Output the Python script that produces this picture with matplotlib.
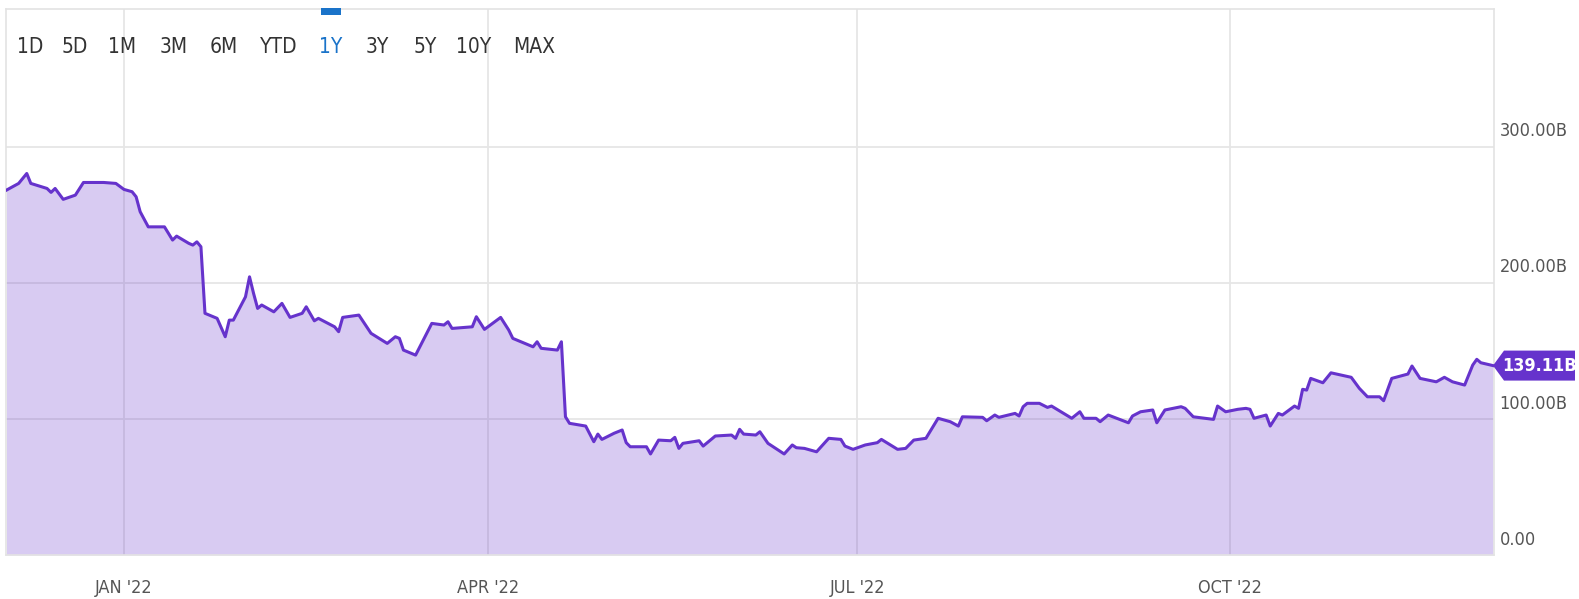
import matplotlib
matplotlib.use('Agg')
import matplotlib.pyplot as plt
import matplotlib.dates as mdates
from matplotlib.patches import Polygon, Rectangle
import pandas as pd

plt.rcParams['font.family'] = ['DejaVu Sans']
plt.rcParams['font.stretch'] = 'condensed'

# market cap, billions
dates = ['2021-12-03', '2021-12-06', '2021-12-08', '2021-12-09', '2021-12-13', '2021-12-14', '2021-12-15',
         '2021-12-17', '2021-12-20', '2021-12-22', '2021-12-27', '2021-12-30', '2022-01-01', '2022-01-03',
         '2022-01-04', '2022-01-05', '2022-01-07', '2022-01-11', '2022-01-13', '2022-01-14', '2022-01-17',
         '2022-01-18', '2022-01-19', '2022-01-20', '2022-01-21', '2022-01-24', '2022-01-26', '2022-01-27',
         '2022-01-28', '2022-01-31', '2022-02-01', '2022-02-02', '2022-02-03', '2022-02-04', '2022-02-07',
         '2022-02-09', '2022-02-11', '2022-02-14', '2022-02-15', '2022-02-17', '2022-02-18', '2022-02-22',
         '2022-02-23', '2022-02-24', '2022-02-28', '2022-03-03', '2022-03-07', '2022-03-09', '2022-03-10',
         '2022-03-11', '2022-03-14', '2022-03-18', '2022-03-21', '2022-03-22', '2022-03-23', '2022-03-28',
         '2022-03-29', '2022-03-31', '2022-04-04', '2022-04-06', '2022-04-07', '2022-04-12', '2022-04-13',
         '2022-04-14', '2022-04-18', '2022-04-19', '2022-04-20', '2022-04-21', '2022-04-25', '2022-04-27',
         '2022-04-28', '2022-04-29', '2022-05-02', '2022-05-04', '2022-05-05', '2022-05-06', '2022-05-10',
         '2022-05-11', '2022-05-13', '2022-05-16', '2022-05-17', '2022-05-18', '2022-05-19', '2022-05-23',
         '2022-05-24', '2022-05-27', '2022-05-31', '2022-06-01', '2022-06-02', '2022-06-03', '2022-06-06',
         '2022-06-07', '2022-06-09', '2022-06-13', '2022-06-15', '2022-06-16', '2022-06-18', '2022-06-21',
         '2022-06-24', '2022-06-27', '2022-06-28', '2022-06-30', '2022-07-03', '2022-07-06', '2022-07-07',
         '2022-07-11', '2022-07-13', '2022-07-15', '2022-07-18', '2022-07-21', '2022-07-24', '2022-07-26',
         '2022-07-27', '2022-08-01', '2022-08-02', '2022-08-04', '2022-08-05', '2022-08-09', '2022-08-10',
         '2022-08-11', '2022-08-12', '2022-08-15', '2022-08-17', '2022-08-18', '2022-08-23', '2022-08-25',
         '2022-08-26', '2022-08-29', '2022-08-30', '2022-09-01', '2022-09-06', '2022-09-07', '2022-09-09',
         '2022-09-12', '2022-09-13', '2022-09-15', '2022-09-19', '2022-09-20', '2022-09-22', '2022-09-27',
         '2022-09-28', '2022-09-30', '2022-10-03', '2022-10-05', '2022-10-06', '2022-10-07', '2022-10-10',
         '2022-10-11', '2022-10-13', '2022-10-14', '2022-10-17', '2022-10-18', '2022-10-19', '2022-10-20',
         '2022-10-21', '2022-10-24', '2022-10-26', '2022-10-31', '2022-11-02', '2022-11-04', '2022-11-07',
         '2022-11-08', '2022-11-10', '2022-11-14', '2022-11-15', '2022-11-17', '2022-11-21', '2022-11-23',
         '2022-11-25', '2022-11-28', '2022-11-30', '2022-12-01', '2022-12-02', '2022-12-05']
values = [268.0, 272.9, 280.2, 272.9, 269.2, 266.3, 269.2,
          261.2, 264.3, 273.6, 273.6, 272.9, 268.5, 266.8,
          263.1, 252.1, 241.0, 241.0, 231.3, 234.2, 228.9,
          227.6, 230.0, 226.4, 177.5, 173.8, 160.3, 172.5,
          172.5, 189.6, 204.3, 192.1, 181.1, 183.6, 178.6,
          184.8, 174.5, 177.5, 182.3, 172.0, 173.8, 167.6,
          164.0, 174.5, 176.2, 162.8, 155.4, 160.3, 159.1,
          150.5, 146.8, 170.1, 168.9, 171.3, 166.4, 167.6,
          175.0, 165.7, 174.5, 165.2, 159.1, 152.9, 156.6,
          151.8, 150.5, 156.6, 101.5, 96.7, 94.7, 83.2,
          88.8, 84.9, 89.4, 91.8, 82.5, 79.5, 79.5,
          74.2, 84.4, 83.9, 86.4, 78.3, 82.0, 83.9,
          80.0, 87.4, 88.1, 85.7, 92.3, 88.8, 88.1,
          90.5, 82.0, 74.2, 80.8, 78.8, 78.3, 75.8,
          85.7, 84.9, 80.0, 77.6, 80.8, 82.5, 84.9,
          77.6, 78.3, 84.4, 85.7, 100.4, 97.9, 94.7,
          101.5, 101.1, 98.6, 102.8, 101.1, 104.0, 102.1,
          108.9, 111.4, 111.4, 108.4, 109.4, 100.4, 105.2,
          100.4, 100.4, 97.9, 102.8, 97.1, 102.1, 105.2,
          106.5, 97.1, 106.5, 108.9, 107.7, 101.5, 99.6,
          109.4, 105.2, 107.0, 107.7, 107.0, 100.4, 102.8,
          94.7, 104.0, 102.8, 109.4, 107.7, 121.7, 121.1,
          129.7, 126.5, 133.8, 130.5, 122.4, 116.2, 116.2,
          113.3, 129.7, 132.9, 138.8, 129.7, 127.2, 130.5,
          127.2, 124.8, 139.5, 143.7, 141.2, 139.11]

tick_dates = ['2022-01-01', '2022-04-01', '2022-07-01', '2022-10-01']
tick_labels = ["JAN '22", "APR '22", "JUL '22", "OCT '22"]
y_ticks = [0, 100, 200, 300]
y_labels = ['0.00', '100.00B', '200.00B', '300.00B']
buttons = ['1D', '5D', '1M', '3M', '6M', 'YTD', '1Y', '3Y', '5Y', '10Y', 'MAX']
button_x = [30, 75, 122, 174, 224, 279, 331, 377, 425, 474, 534]
selected = '1Y'

line_c = '#6633cc'
W, H = 1579, 599

x = pd.to_datetime(dates)
fig = plt.figure(figsize=(W / 100, H / 100), dpi=100)
ax = fig.add_axes([6 / W, 44 / H, 1488 / W, 546 / H])

ax.set_axisbelow(True)
ax.fill_between(x, values, 0, color=line_c, alpha=0.25, linewidth=0, zorder=1)
ax.plot(x, values, color=line_c, linewidth=2.2, solid_joinstyle='round', zorder=3)

ax.set_xlim(pd.Timestamp('2021-12-02 21:00'), pd.Timestamp('2022-12-05 06:00'))
ax.set_ylim(0, 401)

ax.set_yticks(y_ticks[1:])
ax.set_yticklabels([])
ax.set_xticks(pd.to_datetime(tick_dates))
ax.set_xticklabels(tick_labels, fontsize=13, color='#555555')
ax.tick_params(axis='x', length=0, pad=17)
ax.tick_params(axis='y', length=0)
ax.grid(True, color='#e6e6e6', linewidth=1.3)
for s in ax.spines.values():
    s.set_color('#e3e3e3')
    s.set_linewidth(1.2)

for v, lab in zip(y_ticks, y_labels):
    ax.annotate(lab, xy=(1.0, v), xycoords=ax.get_yaxis_transform(),
                xytext=(4, 11), textcoords='offset points',
                ha='left', va='center', fontsize=13, color='#555555', annotation_clip=False)

# range buttons
for b, bx in zip(buttons, button_x):
    c = '#1a73c9' if b == selected else '#333333'
    fig.text(bx / W, 1 - 47 / H, b, ha='center', va='center', fontsize=15, color=c)
    if b == selected:
        fig.add_artist(Rectangle(((bx - 10) / W, 1 - 15 / H), 20 / W, 7 / H,
                                 transform=fig.transFigure, color='#1a73c9', lw=0))

# last value tag
last_x = mdates.date2num(x[-1])
_, yd = ax.transData.transform((last_x, values[-1]))
tip = 1493
pts = [(tip, yd), (tip + 11, yd + 15), (1575, yd + 15), (1575, yd - 15), (tip + 11, yd - 15)]
fig.add_artist(Polygon([(px / W, py / H) for px, py in pts], closed=True,
                       transform=fig.transFigure, color=line_c, lw=0))
fig.text(1540 / W, yd / H, '%.2fB' % values[-1], ha='center', va='center',
         fontsize=13, fontweight='bold', color='white')

fig.savefig('out.png', dpi=100)
